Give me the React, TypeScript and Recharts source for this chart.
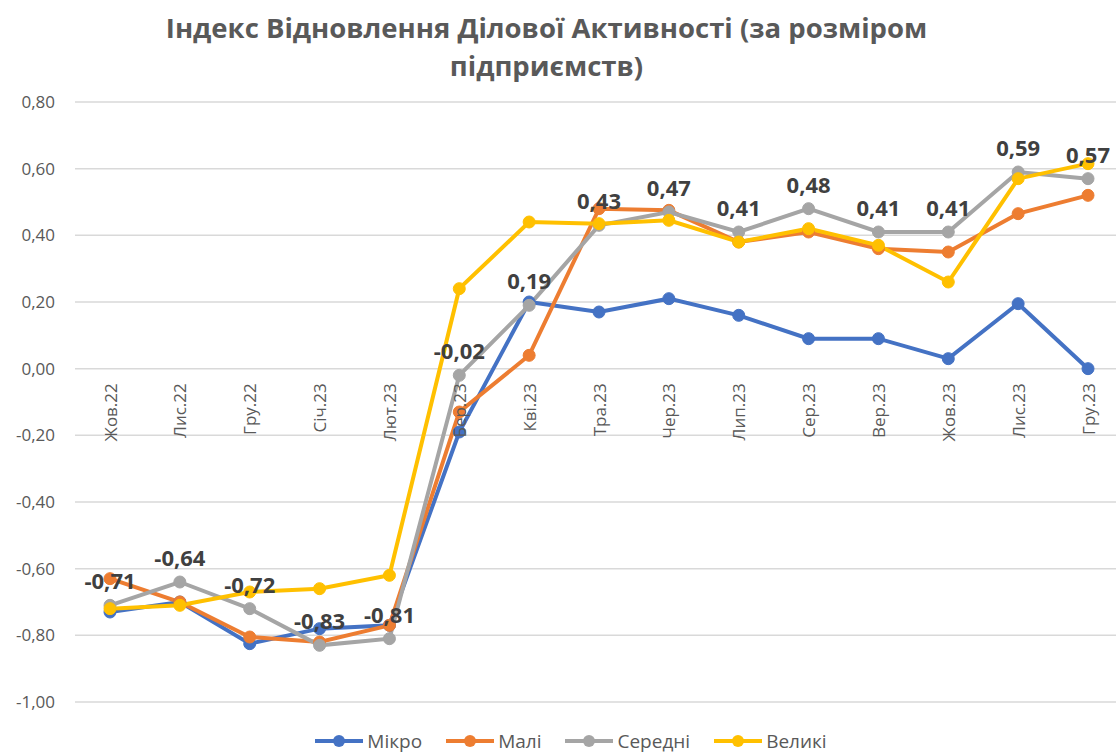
import React from 'react';
import { LineChart, Line, XAxis, YAxis, CartesianGrid, Legend, LabelList } from 'recharts';

const categories = ['Жов.22', 'Лис.22', 'Гру.22', 'Січ.23', 'Лют.23', 'Бер.23', 'Кві.23', 'Тра.23', 'Чер.23', 'Лип.23', 'Сер.23', 'Вер.23', 'Жов.23', 'Лис.23', 'Гру.23'];
const mikro = [-0.73, -0.70, -0.825, -0.78, -0.77, -0.19, 0.20, 0.17, 0.21, 0.16, 0.09, 0.09, 0.03, 0.195, 0.0];
const mali = [-0.63, -0.70, -0.805, -0.82, -0.77, -0.13, 0.04, 0.48, 0.475, 0.38, 0.41, 0.36, 0.35, 0.465, 0.52];
const seredni = [-0.71, -0.64, -0.72, -0.83, -0.81, -0.02, 0.19, 0.43, 0.47, 0.41, 0.48, 0.41, 0.41, 0.59, 0.57];
const velyki = [-0.72, -0.71, -0.67, -0.66, -0.62, 0.24, 0.44, 0.435, 0.445, 0.38, 0.42, 0.37, 0.26, 0.57, 0.615];
const yTicks = [-1.0, -0.8, -0.6, -0.4, -0.2, 0, 0.2, 0.4, 0.6, 0.8];

const series = [
  { key: 'mikro', name: 'Мікро', color: '#4472C4', values: mikro },
  { key: 'mali', name: 'Малі', color: '#ED7D31', values: mali },
  { key: 'seredni', name: 'Середні', color: '#A5A5A5', values: seredni },
  { key: 'velyki', name: 'Великі', color: '#FFC000', values: velyki },
];

const data = categories.map((c, i) => {
  const row: any = { cat: c };
  series.forEach((s) => { row[s.key] = s.values[i]; });
  return row;
});

const Y_MIN = -1.0;
const Y_MAX = 0.8;
const MARGIN_TOP = 102;
const CHART_W = 1125;
const CHART_H = 753;
const PLOT_BOTTOM = 701;
const PLOT_H = PLOT_BOTTOM - MARGIN_TOP;
const zeroY = MARGIN_TOP + ((Y_MAX - 0) / (Y_MAX - Y_MIN)) * PLOT_H;

const FONT = "'Open Sans', 'Noto Sans', sans-serif";
const fmt = (v: number) => v.toFixed(2).replace('.', ',');

const CatTick = (props: any) => {
  const { x, payload } = props;
  return (
    <text
      transform={`translate(${x},${zeroY + 15}) rotate(-90)`}
      textAnchor="end"
      dominantBaseline="central"
      fontSize={17}
      fill="#595959"
      fontFamily={FONT}
    >
      {payload.value}
    </text>
  );
};

const LegendContent = () => (
  <div style={{ display: 'flex', justifyContent: 'center', gap: 24, fontFamily: FONT, fontSize: 19, lineHeight: '20px', height: 20, color: '#595959', paddingLeft: 26 }}>
    {series.map((s) => (
      <div key={s.key} style={{ display: 'flex', alignItems: 'center' }}>
        <svg width={48} height={14} style={{ marginRight: 4 }}>
          <line x1={0} y1={7} x2={48} y2={7} stroke={s.color} strokeWidth={4} />
          <circle cx={24} cy={7} r={6} fill={s.color} />
        </svg>
        <span>{s.name}</span>
      </div>
    ))}
  </div>
);

export default function App() {
  return (
    <div style={{ position: 'fixed', top: 0, left: 0, width: 1116, height: 753, overflow: 'hidden', background: '#fff' }}>
      <div
        style={{
          position: 'absolute',
          top: 9,
          left: 0,
          width: 1093,
          textAlign: 'center',
          fontFamily: FONT,
          fontWeight: 700,
          fontSize: 27.5,
          lineHeight: '38px',
          color: '#595959',
        }}
      >
        Індекс Відновлення Ділової Активності (за розміром
        <br />
        підприємств)
      </div>
      <LineChart width={CHART_W} height={CHART_H} data={data} margin={{ top: MARGIN_TOP, right: 2, bottom: 30, left: 0 }}>
        <CartesianGrid vertical={false} stroke="#D9D9D9" strokeWidth={1.5} />
        <XAxis
          dataKey="cat"
          axisLine={false}
          tickLine={false}
          tick={<CatTick />}
          height={1}
          interval={0}
          padding={{ left: 35, right: 35 }}
        />
        <YAxis
          domain={[Y_MIN, Y_MAX]}
          ticks={yTicks}
          tickFormatter={fmt}
          axisLine={false}
          tickLine={false}
          width={75}
          tickMargin={14}
          tick={{ fontSize: 17, fill: '#595959', fontFamily: FONT }}
          interval={0}
        />
        <Legend verticalAlign="bottom" content={<LegendContent />} wrapperStyle={{ left: 0, width: 1116, bottom: 2 }} />
        {series.map((s) => (
          <Line
            key={s.key}
            dataKey={s.key}
            name={s.name}
            stroke={s.color}
            strokeWidth={4}
            dot={{ r: 6, fill: s.color, stroke: s.color, strokeWidth: 1 }}
            activeDot={false}
            isAnimationActive={false}
          >
            {s.key === 'seredni' && (
              <LabelList
                dataKey={s.key}
                position="top"
                offset={16}
                formatter={(v: any) => fmt(Number(v))}
                style={{ fontSize: 22, fontWeight: 700, fill: '#404040', fontFamily: FONT }}
              />
            )}
          </Line>
        ))}
      </LineChart>
    </div>
  );
}
